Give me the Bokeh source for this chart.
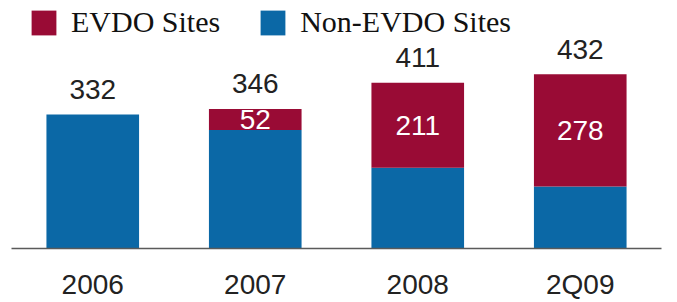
from bokeh.plotting import figure
from bokeh.models import ColumnDataSource, Range1d, Legend, LegendItem
from bokeh.core.properties import value
from bokeh.embed import file_html
from bokeh.resources import INLINE

categories = ["2006", "2007", "2008", "2Q09"]
non_evdo = [332, 294, 200, 154]
evdo = [0, 52, 211, 278]
totals = [332, 346, 411, 432]

RED = "#990b35"
BLUE = "#0b68a6"

src = ColumnDataSource(dict(
    cat=categories,
    non=non_evdo,
    evdo=evdo,
    total=totals,
    total_s=[str(t) for t in totals],
    mid=[n + e / 2 for n, e in zip(non_evdo, evdo)],
    lab=[str(e) if e else "" for e in evdo],
))

FH = 242
p = figure(x_range=categories, y_range=Range1d(0, 600),
           frame_width=650, frame_height=FH,
           min_border_left=11, min_border_right=16, min_border_top=6, min_border_bottom=0,
           output_backend="svg", toolbar_location=None)

rs = p.vbar_stack(["non", "evdo"], x="cat", width=0.57, color=[BLUE, RED],
                  line_color=None, source=src)

p.text(x="cat", y="total", text="total_s", source=src, text_align="center",
       text_baseline="alphabetic", y_offset=-25, text_font=value("Liberation Sans"),
       text_font_size="28px", text_color="#222222")
p.text(x="cat", y="mid", text="lab", source=src, text_align="center",
       text_baseline="middle", text_font=value("Liberation Sans"),
       text_font_size="28px", text_color="white")

legend = Legend(items=[LegendItem(label="EVDO Sites", renderers=[rs[1]]),
                       LegendItem(label="Non-EVDO Sites", renderers=[rs[0]])],
                orientation="horizontal", location=(17, FH - 33),
                glyph_width=31, glyph_height=31, label_standoff=12, spacing=37,
                padding=0, margin=0, border_line_color=None, background_fill_alpha=0,
                label_text_font="Liberation Serif", label_text_font_size="30px",
                label_text_color="#111111")
p.add_layout(legend)

p.yaxis.visible = False
p.xgrid.visible = False
p.ygrid.visible = False
p.outline_line_color = None
ax = p.xaxis[0]
ax.major_tick_line_color = None
ax.minor_tick_line_color = None
ax.axis_line_color = "#5a5a5a"
ax.axis_line_width = 1.5
ax.major_label_text_font = "Liberation Sans"
ax.major_label_text_font_size = "28px"
ax.major_label_text_color = "#222222"
ax.major_label_standoff = 14

open("out.html", "w").write(file_html(p, INLINE))
